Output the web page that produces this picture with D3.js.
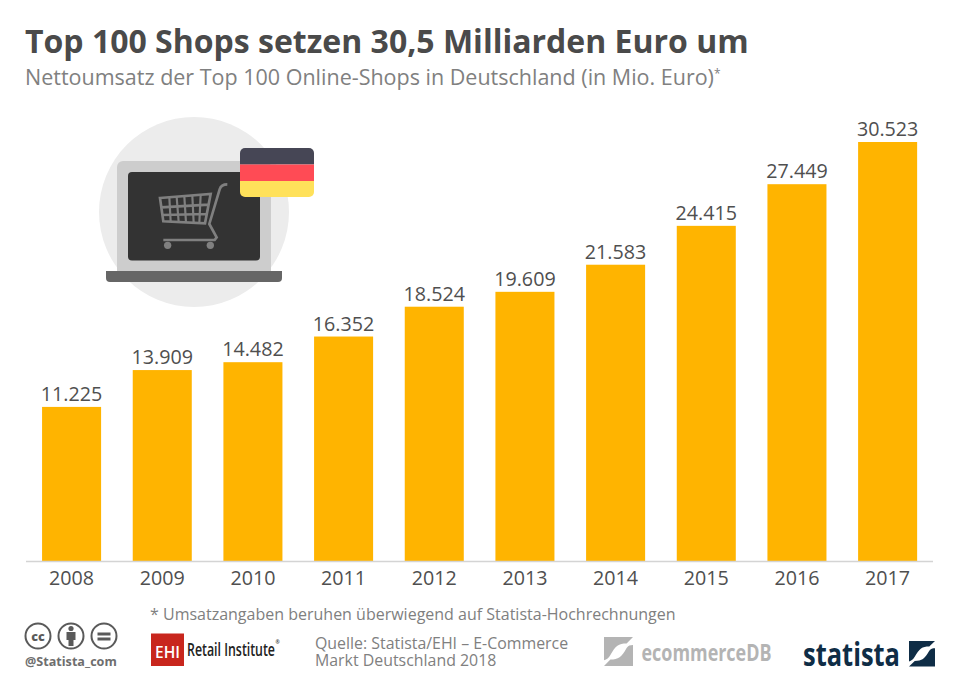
<!DOCTYPE html>
<html><head><meta charset="utf-8">
<script src="https://cdnjs.cloudflare.com/ajax/libs/d3/7.8.5/d3.min.js"></script>
<style>html,body{margin:0;padding:0;background:#fff}svg{display:block}text{font-family:"Open Sans",sans-serif}</style>
</head><body><svg id="c" width="960" height="684"></svg>
<script>
const years=["2008","2009","2010","2011","2012","2013","2014","2015","2016","2017"];
const revenue=[11225,13909,14482,16352,18524,19609,21583,24415,27449,30523];
const labels=["11.225","13.909","14.482","16.352","18.524","19.609","21.583","24.415","27.449","30.523"];
const svg=d3.select("#c");
const x=d3.scaleBand().domain(years).range([26.2,933]).paddingInner(0.349).paddingOuter(0.175);
const y=d3.scaleLinear().domain([0,30523]).range([561,142]);
function T(px,py,s,size,fill,w,extra){const t=svg.append("text").attr("x",px).attr("y",py).attr("font-size",size).attr("fill",fill).attr("font-weight",w||400).text(s);if(extra)extra(t);return t;}

T(25,53,"Top 100 Shops setzen 30,5 Milliarden Euro um",32,"#4a4a4a",700);
const sub=T(25,85,"Nettoumsatz der Top 100 Online-Shops in Deutschland (in Mio. Euro)",21.5,"#808080");
sub.append("tspan").attr("dy",-7).attr("font-size",12).text("*");

// icon
const ic=svg.append("g");
ic.append("circle").attr("cx",194).attr("cy",212).attr("r",95).attr("fill","#ececec");
ic.append("path").attr("d","M117 272V167a6 6 0 0 1 6-6H265a6 6 0 0 1 6 6V272Z").attr("fill","#cdcdcd");
ic.append("rect").attr("x",128).attr("y",172).attr("width",132).attr("height",88.5).attr("rx",4).attr("fill","#333333");
ic.append("path").attr("d","M106 271H282V278a4 4 0 0 1-4 4H110a4 4 0 0 1-4-4Z").attr("fill","#666666");
// cart
const cart=ic.append("g").attr("transform","translate(80,100) scale(0.3333)").attr("fill","none").attr("stroke","#808080").attr("stroke-width",8);
cart.append("path").attr("d","M240 294L392 282L375 370L250 364Z M244 322L386 314 M247 345L381 342");
cart.append("path").attr("d","M268 292L272 364 M290 291L296 366 M313 289L318 367 M337 287L341 368 M362 285L358 369").attr("stroke-width",6.5);
cart.append("path").attr("d","M442 253C428 253 422 258 419 268L388 372L410 412L404 420H250");
cart.append("circle").attr("cx",263).attr("cy",436).attr("r",11).attr("fill","#808080").attr("stroke","none");
cart.append("circle").attr("cx",391).attr("cy",436).attr("r",11).attr("fill","#808080").attr("stroke","none");
// flag
const defs=svg.append("defs");
defs.append("clipPath").attr("id","fl").append("rect").attr("x",240).attr("y",148).attr("width",74).attr("height",49).attr("rx",5);
const fl=ic.append("g").attr("clip-path","url(#fl)");
fl.append("rect").attr("x",240).attr("y",148).attr("width",74).attr("height",16.5).attr("fill","#464655");
fl.append("rect").attr("x",240).attr("y",164.5).attr("width",74).attr("height",16.5).attr("fill","#ff4b55");
fl.append("rect").attr("x",240).attr("y",181).attr("width",74).attr("height",16).attr("fill","#ffe15a");

// bars
svg.append("g").selectAll("rect").data(revenue).join("rect")
 .attr("x",(d,i)=>x(years[i])).attr("width",x.bandwidth())
 .attr("y",d=>y(d)).attr("height",d=>y(0)-y(d)).attr("fill","#ffb400");
svg.append("g").selectAll("text").data(revenue).join("text")
 .attr("x",(d,i)=>x(years[i])+x.bandwidth()/2).attr("y",d=>y(d)-6)
 .attr("text-anchor","middle").attr("font-size",19.7).attr("fill","#4f4f4f").text((d,i)=>labels[i]);
// axis
const ax=svg.append("g").attr("transform","translate(0,561)").call(d3.axisBottom(x).tickSize(0).tickPadding(10.5));
ax.select(".domain").attr("stroke","#d4d4d4").attr("stroke-width",1.5).attr("d","M26,0.5H933");
ax.selectAll("text").attr("font-size",19.7).attr("fill","#4f4f4f").style("font-family",'"Open Sans",sans-serif');

// footer
T(150,619.5,"* Umsatzangaben beruhen überwiegend auf Statista-Hochrechnungen",16,"#808080");
const q=T(315,649,"",15.9,"#808080");
q.append("tspan").attr("x",315).attr("y",649).text("Quelle: Statista/EHI – E-Commerce");
q.append("tspan").attr("x",315).attr("y",666).text("Markt Deutschland 2018");
T(25,666,"@Statista_com",12.6,"#6e6e6e",700);
// cc icons
const cc=svg.append("g").attr("fill","none").attr("stroke","#5a5a5a").attr("stroke-width",2);
[38,71,104].forEach(cx=>cc.append("circle").attr("cx",cx).attr("cy",636).attr("r",12.5));
svg.append("text").attr("x",38).attr("y",640.5).attr("text-anchor","middle").attr("font-size",12.5).attr("font-weight",800).attr("fill","#5a5a5a").text("cc");
svg.append("circle").attr("cx",71).attr("cy",628.5).attr("r",2.6).attr("fill","#5a5a5a");
svg.append("path").attr("d","M66.5 632H75.5V640H73.5V646H68.5V640H66.5Z").attr("fill","#5a5a5a");
svg.append("path").attr("d","M97.5 632.5H110.5V635.5H97.5Z M97.5 637.5H110.5V640.5H97.5Z").attr("fill","#5a5a5a");
// EHI
svg.append("rect").attr("x",151).attr("y",633.5).attr("width",33).attr("height",32.5).attr("fill","#c8261d");
T(155,657.5,"EHI",17,"#ffffff",600,t=>t.attr("textLength",25).attr("lengthAdjust","spacingAndGlyphs"));
const ret=T(187,656,"",18,"#222222",600);
ret.append("tspan").attr("textLength",88).attr("lengthAdjust","spacingAndGlyphs").text("Retail Institute");
ret.append("tspan").attr("x",275.5).attr("y",644).attr("font-size",5).text("®");
// ecommerceDB
const mark=(g,x0,y0,w,h,c)=>{const k=g.append("g").attr("transform",`translate(${x0},${y0}) scale(${w/100},${h/100})`);
 k.append("path").attr("fill",c).attr("d","M0 0H100L78 22C50 22 40 30 22 62C16 72 10 78 0 80Z");
 k.append("path").attr("fill",c).attr("d","M100 28V100H0L22 78C50 78 60 70 78 38C84 30 90 28 100 28Z");};
mark(svg,604,637,29,29,"#b4b4b4");
T(641.5,661,"ecommerceDB",24,"#b4b4b4",700,t=>t.attr("textLength",130).attr("lengthAdjust","spacingAndGlyphs"));
// statista
T(803,666,"statista",33,"#0f2d46",700,t=>t.attr("textLength",97).attr("lengthAdjust","spacingAndGlyphs"));
mark(svg,909,641,26,25.5,"#0f2d46");
</script></body></html>
